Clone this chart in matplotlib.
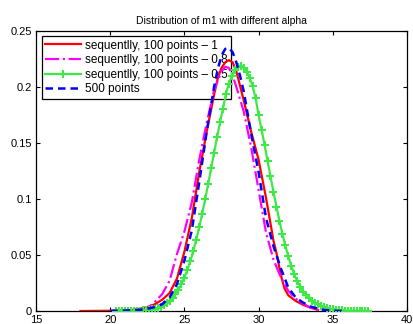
import numpy as np
import matplotlib
matplotlib.use('Agg')
import matplotlib.pyplot as plt

plt.rcParams['font.family'] = ['Liberation Sans', 'DejaVu Sans']

# sequentially, 100 points - 1 (red)
red_x = [18.0, 19.0, 20.0, 21.0, 21.5, 22.0, 22.5, 23.0, 23.5, 24.0, 24.5, 25.0, 25.5,
         26.0, 26.5, 27.0, 27.25, 27.5, 27.75, 28.0, 28.25, 28.5, 28.75, 29.0, 29.5,
         30.0, 30.5, 31.0, 31.25, 31.5, 31.75, 32.0, 32.5, 33.0, 33.5, 34.0]
red_y = [0.0, 0.0001, 0.0002, 0.0005, 0.001, 0.002, 0.0035, 0.006, 0.010, 0.016, 0.029,
         0.053, 0.083, 0.124, 0.160, 0.193, 0.208, 0.217, 0.222, 0.224, 0.222, 0.214,
         0.201, 0.188, 0.160, 0.135, 0.101, 0.063, 0.049, 0.032, 0.020, 0.014, 0.009,
         0.0055, 0.003, 0.001]

# sequentially, 100 points - 0.8 (magenta)
mag_x = [22.0, 22.3, 22.5, 23.0, 23.5, 24.0, 24.5, 25.0, 25.5, 26.0, 26.5, 27.0, 27.5,
         27.75, 28.0, 28.25, 28.5, 29.0, 29.5, 30.0, 30.5, 31.0, 31.5, 32.0, 32.5, 33.0,
         33.5, 34.0, 34.3]
mag_y = [0.0, 0.0005, 0.002, 0.008, 0.015, 0.027, 0.051, 0.071, 0.097, 0.135, 0.168,
         0.197, 0.214, 0.218, 0.217, 0.210, 0.200, 0.178, 0.146, 0.108, 0.070, 0.046,
         0.030, 0.018, 0.011, 0.0065, 0.003, 0.001, 0.0]

# sequentially, 100 points - 0.5 (green, 0.2 step from 20.4 to 37.4)
green_x = np.linspace(20.4, 37.4, 86)
green_y = [0.0, 0.0, 0.0, 0.0, 0.0001, 0.0001, 0.0001, 0.0002, 0.0003, 0.0005,
           0.0007, 0.0010, 0.0015, 0.0020, 0.0028, 0.0038, 0.0051, 0.0068, 0.0090, 0.0117,
           0.0150, 0.0191, 0.0240, 0.0298, 0.0367, 0.0446, 0.0536, 0.0637, 0.0748, 0.0869,
           0.0998, 0.1134, 0.1273, 0.1414, 0.1552, 0.1684, 0.1808, 0.1940, 0.2030, 0.2100,
           0.2150, 0.2180, 0.2185, 0.2170, 0.2135, 0.2080, 0.2005, 0.1900, 0.1748, 0.1619,
           0.1483, 0.1343, 0.1203, 0.1065, 0.0933, 0.0807, 0.0691, 0.0585, 0.0489, 0.0405,
           0.0331, 0.0268, 0.0216, 0.0174, 0.0140, 0.0112, 0.0092, 0.0075, 0.0060, 0.0048,
           0.0037, 0.0028, 0.0021, 0.0015, 0.0011, 0.0008, 0.0006, 0.0004, 0.0003, 0.0002,
           0.0002, 0.0001, 0.0001, 0.0001, 0.0, 0.0]

# 500 points (blue)
blue_x = [20.0, 21.0, 22.0, 22.5, 23.0, 23.5, 24.0, 24.5, 25.0, 25.5, 26.0, 26.5, 27.0,
          27.25, 27.5, 27.75, 28.0, 28.25, 28.5, 28.75, 29.0, 29.5, 30.0, 30.5, 31.0,
          31.5, 32.0, 32.5, 33.0, 33.5, 34.0, 34.5, 35.0, 35.7]
blue_y = [0.0002, 0.0004, 0.001, 0.002, 0.0035, 0.006, 0.012, 0.024, 0.045, 0.072, 0.115,
          0.160, 0.200, 0.216, 0.228, 0.234, 0.235, 0.231, 0.222, 0.210, 0.196, 0.158,
          0.124, 0.083, 0.058, 0.038, 0.021, 0.012, 0.0075, 0.004, 0.002, 0.0008, 0.0003,
          0.0]

labels = ['sequentlly, 100 points \u2013 1', 'sequentlly, 100 points \u2013 0.8',
          'sequentlly, 100 points \u2013 0.5', '500 points']

fig = plt.figure(figsize=(4.14, 3.24), dpi=100)
ax = fig.add_axes([36 / 414, 13 / 324, 371 / 414, 280 / 324])

ax.plot(red_x, red_y, color='#ff0000', lw=1.6, label=labels[0], zorder=3)
ax.plot(mag_x, mag_y, color='#ff00ff', lw=1.6, ls='-.', label=labels[1], zorder=3)
ax.plot(green_x, green_y, color='#3ee846', lw=1.6, marker='+', ms=6, mew=1.5,
        label=labels[2], zorder=3)
ax.plot(blue_x, blue_y, color='#0000ff', lw=1.8, ls=(0, (3, 2)), label=labels[3], zorder=3)

ax.set_xlim(15, 40)
ax.set_ylim(0, 0.25)
ax.set_xticks([15, 20, 25, 30, 35, 40])
ax.set_yticks([0, 0.05, 0.1, 0.15, 0.2, 0.25])
ax.set_yticklabels(['0', '0.05', '0.1', '0.15', '0.2', '0.25'])
ax.tick_params(direction='in', top=True, right=True, labelsize=8, length=3, width=0.8)
ax.tick_params(axis='x', pad=3)
ax.tick_params(axis='y', pad=3)
for s in ax.spines.values():
    s.set_linewidth(0.9)
ax.set_title('Distribution of m1 with different alpha', fontsize=7.5, pad=5)

leg = ax.legend(loc='upper left', bbox_to_anchor=(0.016, 0.982), borderaxespad=0,
                fontsize=8.5, fancybox=False, edgecolor='black', framealpha=1,
                handlelength=3.0, handletextpad=0.35, labelspacing=0.22, borderpad=0.3)
leg.get_frame().set_linewidth(0.9)
leg.set_zorder(2)

fig.savefig('out.png', dpi=100)
